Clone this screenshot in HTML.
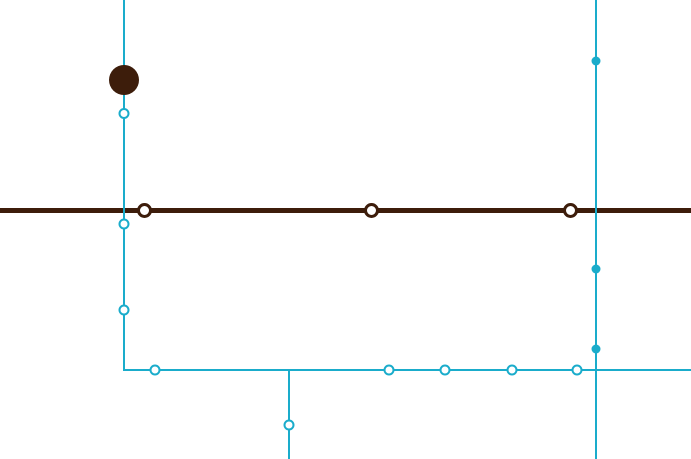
<!DOCTYPE html>
<html><head><style>html,body{margin:0;padding:0;background:#fff;}svg{display:block}</style></head>
<body>
<svg width="691" height="459" viewBox="0 0 691 459" xmlns="http://www.w3.org/2000/svg">
<line x1="0" y1="210.5" x2="691" y2="210.5" stroke="#3d1d0b" stroke-width="5"/>
<g stroke="#1aaccb" stroke-width="2" fill="none">
<polyline points="124,0 124,370 691,370"/>
<line x1="596" y1="0" x2="596" y2="459"/>
<line x1="289" y1="370" x2="289" y2="459"/>
</g>
<circle cx="124" cy="80" r="15" fill="#3d1d0b"/>
<g fill="#fff" stroke="#3d1d0b" stroke-width="3">
<circle cx="144.5" cy="210.5" r="6"/>
<circle cx="371.5" cy="210.5" r="6"/>
<circle cx="570.5" cy="210.5" r="6"/>
</g>
<g fill="#fff" stroke="#1aaccb" stroke-width="2">
<circle cx="124" cy="113.5" r="4.5"/>
<circle cx="124" cy="224" r="4.5"/>
<circle cx="124" cy="310" r="4.5"/>
<circle cx="155" cy="370" r="4.5"/>
<circle cx="389" cy="370" r="4.5"/>
<circle cx="445" cy="370" r="4.5"/>
<circle cx="512" cy="370" r="4.5"/>
<circle cx="577" cy="370" r="4.5"/>
<circle cx="289" cy="425" r="4.5"/>
</g>
<g fill="#1aaccb">
<circle cx="596" cy="61" r="4.5"/>
<circle cx="596" cy="269" r="4.5"/>
<circle cx="596" cy="349" r="4.5"/>
</g>
</svg>
</body></html>
